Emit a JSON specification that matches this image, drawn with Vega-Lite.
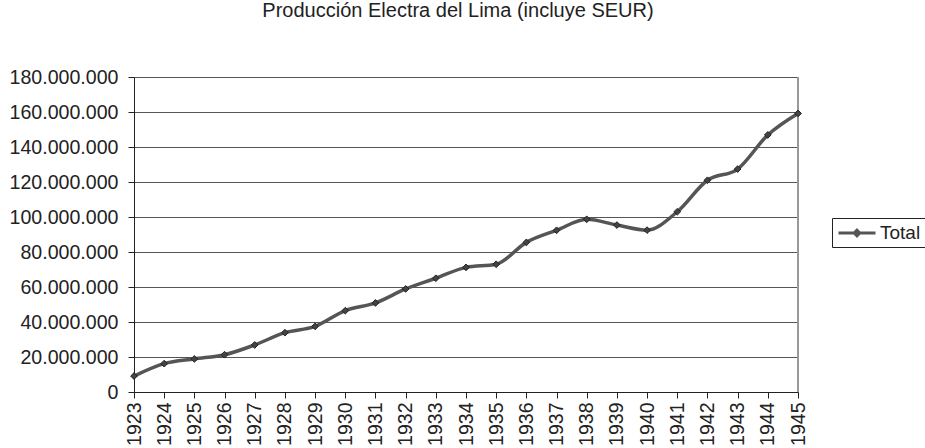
{
  "$schema": "https://vega.github.io/schema/vega-lite/v6.json",
  "autosize": "none",
  "width": 664,
  "height": 315,
  "padding": {"left": 134, "top": 77, "right": 127, "bottom": 56},
  "background": "white",
  "config": {
    "locale": {"number": {"decimal": ",", "thousands": ".", "grouping": [3], "currency": ["", ""]}},
    "font": "Liberation Sans",
    "view": {"stroke": null}
  },
  "title": {
    "text": "Producción Electra del Lima (incluye SEUR)",
    "font": "Liberation Sans",
    "fontSize": 20,
    "fontWeight": "normal",
    "color": "#222",
    "anchor": "middle",
    "offset": 46,
    "dx": -8
  },
  "data": {
    "values": [
      {"year": "1923", "value": 9100000, "serie": "Total"},
      {"year": "1924", "value": 16200000, "serie": "Total"},
      {"year": "1925", "value": 18900000, "serie": "Total"},
      {"year": "1926", "value": 21300000, "serie": "Total"},
      {"year": "1927", "value": 26900000, "serie": "Total"},
      {"year": "1928", "value": 33900000, "serie": "Total"},
      {"year": "1929", "value": 37500000, "serie": "Total"},
      {"year": "1930", "value": 46500000, "serie": "Total"},
      {"year": "1931", "value": 50900000, "serie": "Total"},
      {"year": "1932", "value": 58900000, "serie": "Total"},
      {"year": "1933", "value": 65000000, "serie": "Total"},
      {"year": "1934", "value": 71200000, "serie": "Total"},
      {"year": "1935", "value": 73000000, "serie": "Total"},
      {"year": "1936", "value": 85500000, "serie": "Total"},
      {"year": "1937", "value": 92400000, "serie": "Total"},
      {"year": "1938", "value": 98700000, "serie": "Total"},
      {"year": "1939", "value": 95400000, "serie": "Total"},
      {"year": "1940", "value": 92500000, "serie": "Total"},
      {"year": "1941", "value": 103000000, "serie": "Total"},
      {"year": "1942", "value": 121000000, "serie": "Total"},
      {"year": "1943", "value": 127400000, "serie": "Total"},
      {"year": "1944", "value": 146900000, "serie": "Total"},
      {"year": "1945", "value": 159200000, "serie": "Total"}
    ]
  },
  "encoding": {
    "x": {
      "field": "year",
      "type": "ordinal",
      "scale": {"type": "point", "padding": 0},
      "axis": {
        "title": null,
        "labelAngle": -90,
        "labelFontSize": 19.5,
        "labelColor": "#222",
        "labelPadding": 4,
        "domainColor": "#222",
        "tickColor": "#222",
        "tickSize": 6,
        "grid": false
      }
    },
    "y": {
      "field": "value",
      "type": "quantitative",
      "scale": {"domain": [0, 180000000], "nice": false},
      "axis": {
        "title": null,
        "values": [0, 20000000, 40000000, 60000000, 80000000, 100000000, 120000000, 140000000, 160000000, 180000000],
        "format": ",d",
        "labelFontSize": 19.6,
        "labelColor": "#222",
        "labelPadding": 10,
        "domainColor": "#222",
        "tickColor": "#222",
        "tickSize": 6,
        "grid": true,
        "gridColor": "#555",
        "gridWidth": 1
      }
    }
  },
  "layer": [
    {
      "mark": {"type": "rule", "color": "#999", "strokeWidth": 1.5},
      "encoding": {
        "x": {"datum": "1945"},
        "y": {"datum": 0},
        "y2": {"datum": 180000000}
      }
    },
    {
      "mark": {"type": "line", "interpolate": "monotone", "strokeWidth": 3.5},
      "encoding": {
        "color": {
          "field": "serie",
          "type": "nominal",
          "scale": {"range": ["#555555"]},
          "legend": {
            "title": null,
            "orient": "none",
            "legendX": 698,
            "legendY": 141,
            "strokeColor": "#222",
            "fillColor": "white",
            "padding": 4,
            "labelFontSize": 19,
            "labelColor": "#222",
            "labelOffset": 12,
            "symbolOffset": 10,
            "symbolType": "M-2,0L2,0M0,-0.3L0.3,0L0,0.3L-0.3,0Z",
            "symbolSize": 342,
            "symbolStrokeWidth": 3,
            "symbolFillColor": "#444",
            "symbolStrokeColor": "#555"
          }
        }
      }
    },
    {
      "mark": {"type": "point", "shape": "diamond", "filled": true, "fill": "#444", "stroke": "#222", "strokeWidth": 1, "size": 45, "opacity": 1}
    }
  ]
}
